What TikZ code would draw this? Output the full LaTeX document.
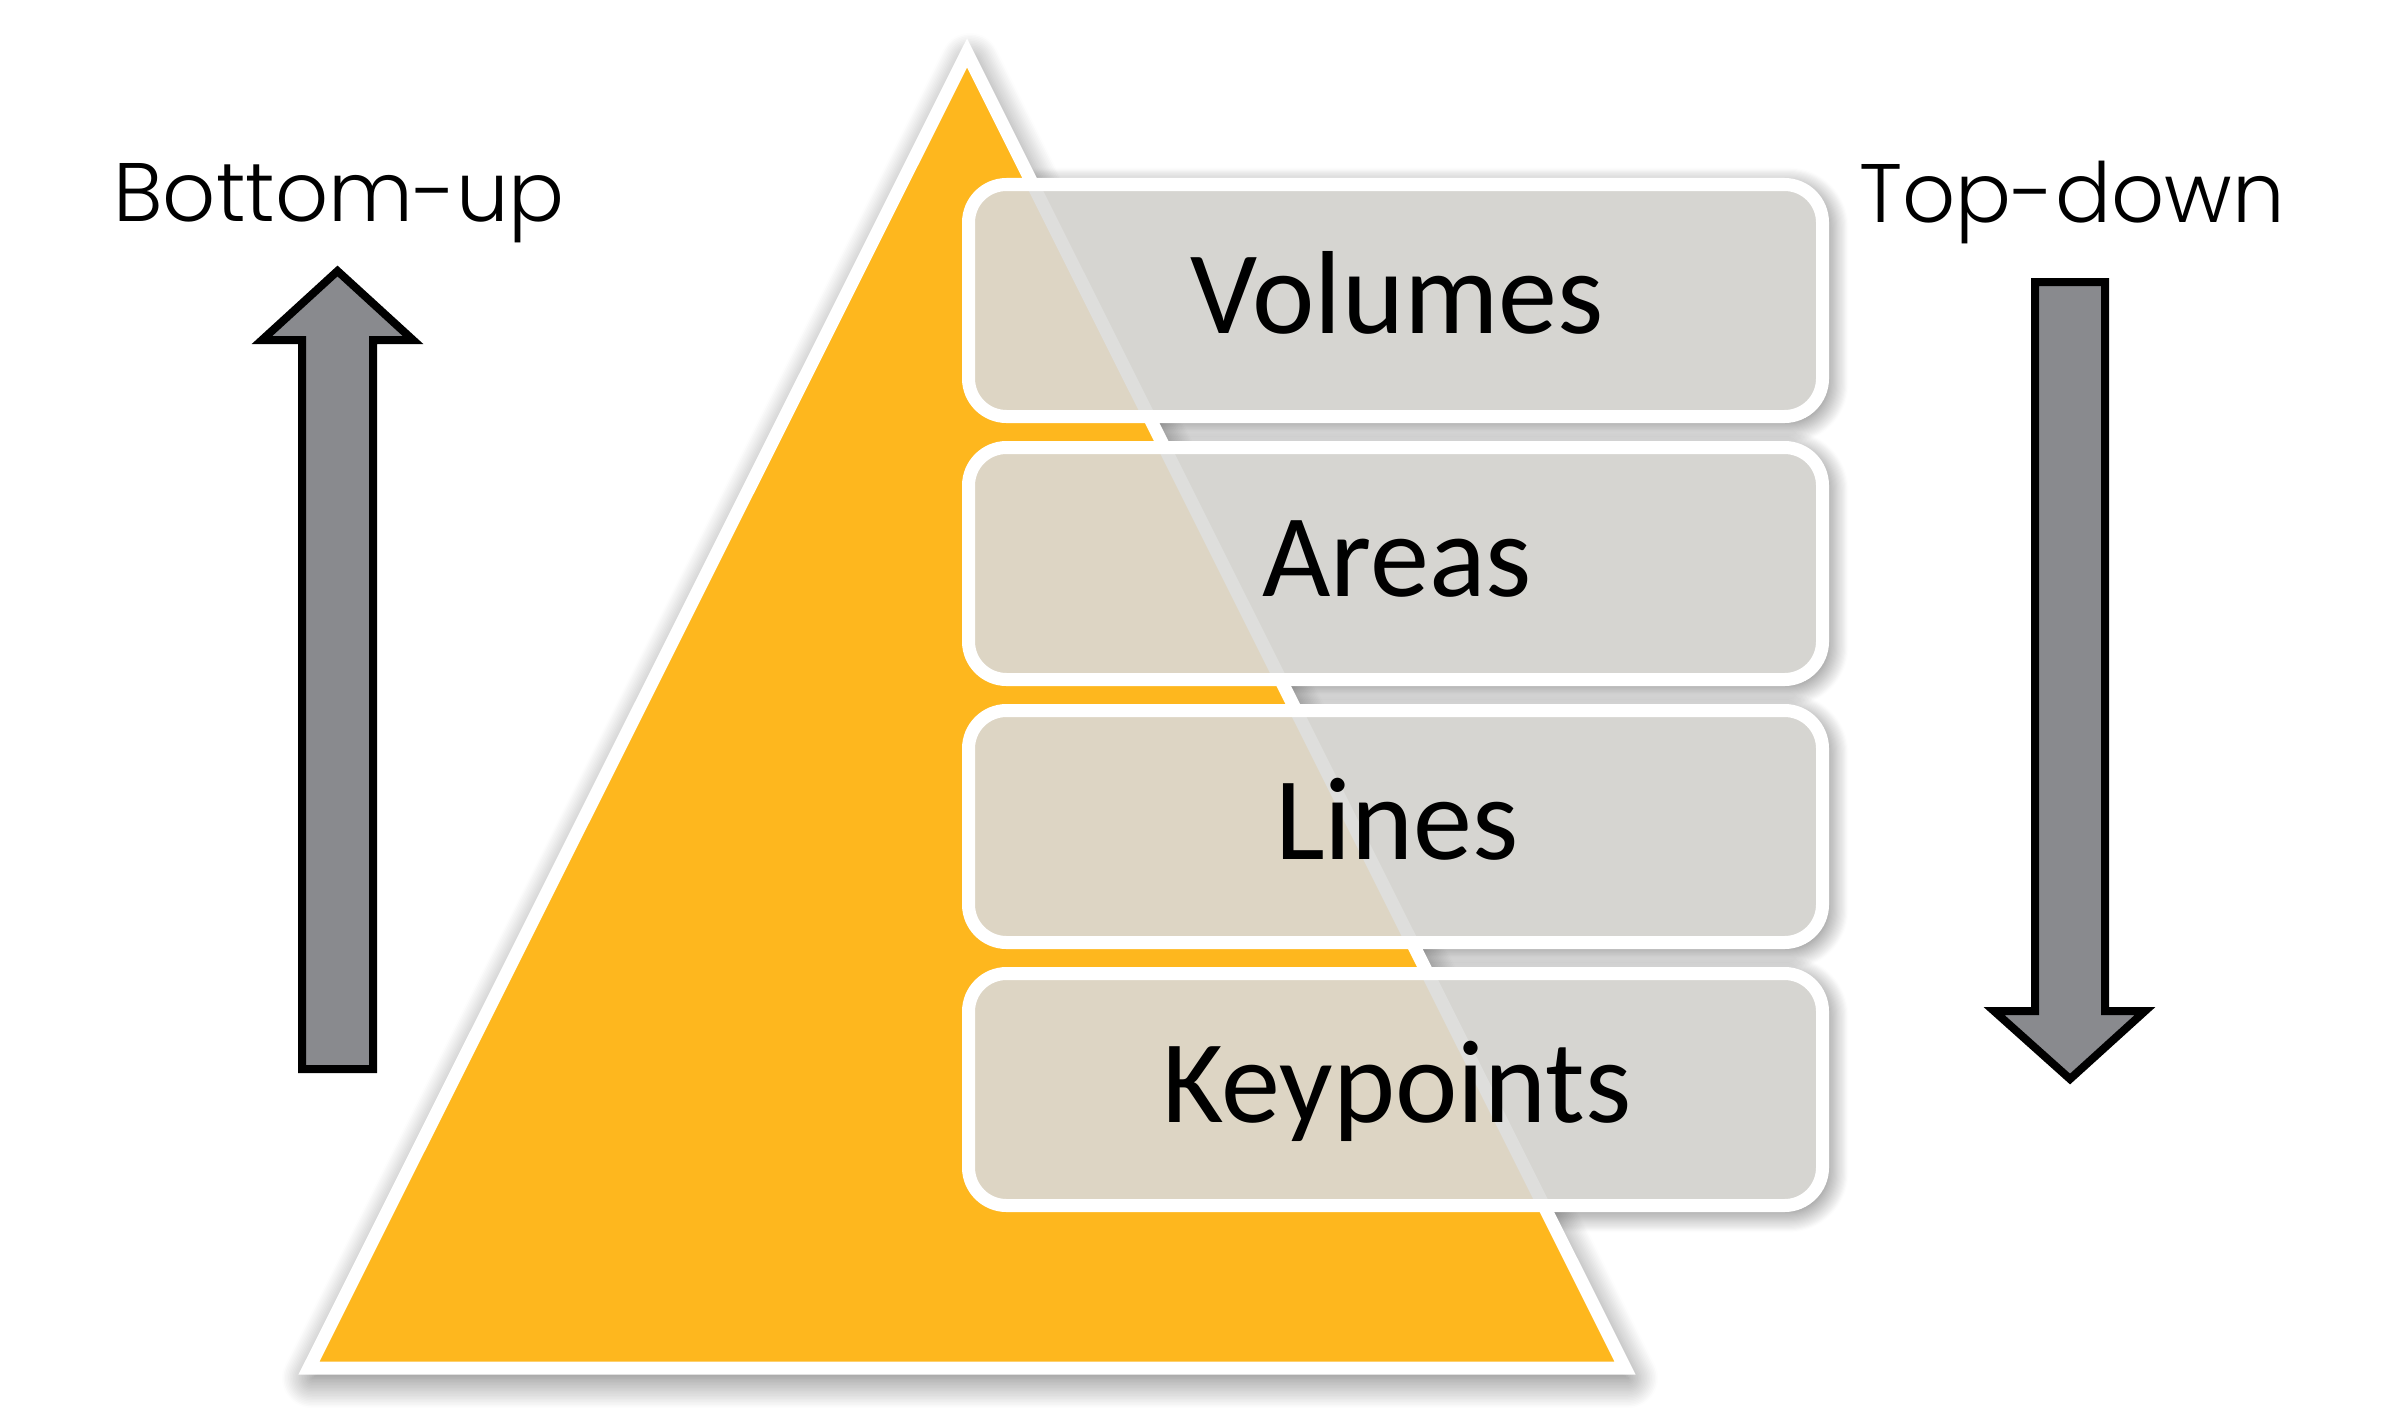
\documentclass[tikz,border=0pt]{standalone}
\usepackage{fontspec}
\usetikzlibrary{shadows.blur}
\newfontfamily\boxfont{Carlito}
\IfFontExistsTF{Poppins Light}{\newfontfamily\sidefont{Poppins Light}}{\newfontfamily\sidefont{Poppins}}
\definecolor{gold}{RGB}{254,183,30}
\definecolor{boxgray}{RGB}{214,213,209}
\definecolor{boxbeige}{RGB}{221,213,196}
\definecolor{bandgray}{RGB}{222,222,220}
\definecolor{arrowgray}{RGB}{137,138,142}
\tikzset{
  triframe/.style={fill=gold, draw=white, line width=0.13cm, line join=miter,
    blur shadow={shadow xshift=0.03cm, shadow yshift=-0.10cm, shadow blur radius=0.30cm, shadow opacity=60, shadow blur steps=20}},
  boxshade/.style={rounded corners=0.38cm,
    blur shadow={shadow xshift=0.04cm, shadow yshift=-0.05cm, shadow blur radius=0.22cm, shadow opacity=65, shadow blur steps=20}},
  boxfill/.style={fill=boxgray, rounded corners=0.38cm},
  boxedge/.style={draw=white, line width=0.13cm, rounded corners=0.38cm},
  boxtext/.style={font=\boxfont\fontsize{33.6pt}{40pt}\selectfont, text=black, inner sep=0pt, anchor=base},
  sidetext/.style={font=\sidefont\fontsize{23.6pt}{28pt}\selectfont, text=black, inner sep=0pt, anchor=base},
  bigarrow/.style={fill=arrowgray, draw=black, line width=0.08cm, line join=miter}
}
\begin{document}
\begin{tikzpicture}[x=0.01cm, y=-0.01cm]
\useasboundingbox (0,0) rectangle (2386,1412);
% box corner coordinates
\foreach \i in {0,...,3}{
  \coordinate (b\i nw) at (968.5,{184.5+263*\i});
  \coordinate (b\i se) at (1822.5,{416.5+263*\i});
}
% box shadows (behind the triangle)
\foreach \i in {0,...,3}{
  \path[boxshade] (b\i nw) rectangle (b\i se);
}
% triangle
\coordinate (apex) at (967,53);
\coordinate (bl) at (309,1368);
\coordinate (br) at (1625,1368);
\path[triframe] (apex) -- (bl) -- (br) -- cycle;
% boxes fill
\foreach \i in {0,...,3}{
  \path[boxfill] (b\i nw) rectangle (b\i se);
}
% triangle seen through boxes
\begin{scope}
  \clip[rounded corners=0.38cm] (b0nw) rectangle (b0se) (b1nw) rectangle (b1se)
       (b2nw) rectangle (b2se) (b3nw) rectangle (b3se);
  \path[fill=boxbeige, draw=bandgray, line width=0.13cm, line join=miter]
       (apex) -- (bl) -- (br) -- cycle;
\end{scope}
% box borders
\foreach \i in {0,...,3}{
  \path[boxedge] (b\i nw) rectangle (b\i se);
}
% box labels
\node[boxtext] (volumes) at (1397,333) {Volumes};
\node[boxtext] (areas) at (1397,596) {Areas};
\node[boxtext] (lines) at (1397,859) {Lines};
\node[boxtext] (keypoints) at (1397,1122) {Keypoints};
% side labels
\node[sidetext] (bottomup) at (339,221) {Bottom-up};
\node[sidetext] (topdown) at (2072,222) {Top-down};
% arrows
\path[bigarrow] (337.5,271) -- (413,340) -- (373,340) -- (373,1069) -- (302,1069)
   -- (302,340) -- (262,340) -- cycle;
\path[bigarrow] (2070,1079) -- (2145,1011) -- (2105,1011) -- (2105,282) -- (2035,282)
   -- (2035,1011) -- (1994,1011) -- cycle;
\end{tikzpicture}
\end{document}
